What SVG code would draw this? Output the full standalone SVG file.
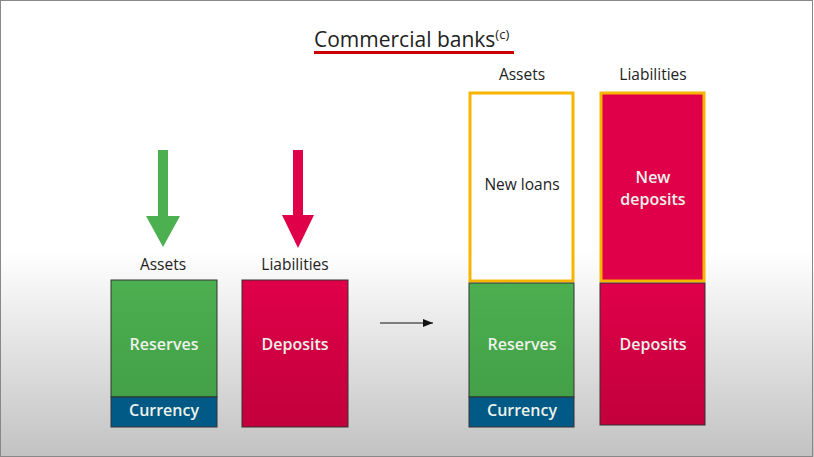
<svg xmlns="http://www.w3.org/2000/svg" width="814" height="457" viewBox="0 0 814 457">
<defs>
<linearGradient id="bg" x1="0" y1="0" x2="0" y2="457" gradientUnits="userSpaceOnUse">
<stop offset="0" stop-color="#ffffff"/>
<stop offset="0.55" stop-color="#ffffff"/>
<stop offset="1" stop-color="#c2c2c2"/>
</linearGradient>
<linearGradient id="redg" x1="0" y1="0" x2="0" y2="1">
<stop offset="0" stop-color="#e0004a"/>
<stop offset="1" stop-color="#c2003c"/>
</linearGradient>
<linearGradient id="greeng" x1="0" y1="0" x2="0" y2="1">
<stop offset="0" stop-color="#4caf50"/>
<stop offset="1" stop-color="#43a047"/>
</linearGradient>
<marker id="ah" markerWidth="10" markerHeight="8" refX="10" refY="4" orient="auto" markerUnits="userSpaceOnUse">
<path d="M0,0 L10,4 L0,8 Z" fill="#111"/>
</marker>
</defs>
<style>
.lbl{font-family:"Open Sans","Noto Sans",sans-serif;font-size:15.5px;fill:#222;text-anchor:middle}
.in{font-family:"Open Sans","Noto Sans",sans-serif;font-size:16px;font-weight:600;fill:#eef2ea;text-anchor:middle}
.box{stroke:#333;stroke-width:1}
.new{stroke:#f7b500;stroke-width:3}
</style>
<rect x="0" y="0" width="814" height="457" fill="url(#bg)"/>
<rect x="0.5" y="0.5" width="812" height="456" fill="none" stroke="#888" stroke-width="1"/>

<g id="title">
<text x="314" y="47" font-family="Open Sans, Noto Sans, sans-serif" font-size="21" fill="#222">Commercial banks<tspan font-size="13" dy="-8">(c)</tspan></text>
<rect x="314" y="51" width="200" height="3" fill="#cc0000"/>
</g>

<g id="left-assets">
<path d="M158,150 H168 V216 H180 L163,247 L146,216 H158 Z" fill="#4caf50"/>
<text class="lbl" x="163" y="270">Assets</text>
<rect class="box" x="111" y="280" width="106" height="117" fill="url(#greeng)"/>
<rect class="box" x="111" y="397" width="106" height="30" fill="#005a85"/>
<text class="in" x="164" y="350">Reserves</text>
<text class="in" x="164" y="416">Currency</text>
</g>

<g id="left-liabilities">
<path d="M293,150 H303 V215 H314 L298,248 L282,215 H293 Z" fill="#e0004a"/>
<text class="lbl" x="295" y="270">Liabilities</text>
<rect class="box" x="242" y="280" width="106" height="147" fill="url(#redg)"/>
<text class="in" x="295" y="350">Deposits</text>
</g>

<g id="connectors">
<line x1="380" y1="323" x2="433" y2="323" stroke="#111" stroke-width="1.2" marker-end="url(#ah)"/>
</g>

<g id="right-assets">
<text class="lbl" x="522" y="80">Assets</text>
<rect class="new" x="470" y="93" width="103" height="188" fill="#ffffff"/>
<text class="lbl" x="522" y="190" font-size="16">New loans</text>
<rect class="box" x="469" y="283" width="105" height="114" fill="url(#greeng)"/>
<rect class="box" x="469" y="397" width="105" height="30" fill="#005a85"/>
<text class="in" x="522" y="350">Reserves</text>
<text class="in" x="522" y="416">Currency</text>
</g>

<g id="right-liabilities">
<text class="lbl" x="653" y="80">Liabilities</text>
<rect class="new" x="601" y="93" width="103" height="188" fill="#e0004a"/>
<text class="in" x="653" y="183" fill="#ffffff">New</text>
<text class="in" x="653" y="205" fill="#ffffff">deposits</text>
<rect class="box" x="600" y="283" width="105" height="142" fill="url(#redg)"/>
<text class="in" x="653" y="350">Deposits</text>
</g>
</svg>
